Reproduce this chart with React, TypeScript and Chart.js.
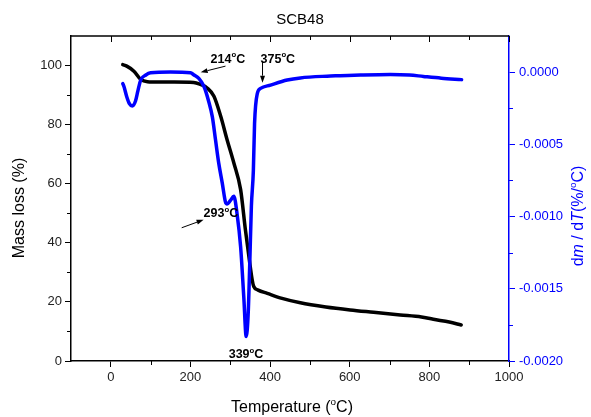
import React, { useEffect, useRef } from "react";
import { Chart, registerables } from "chart.js";

Chart.register(...registerables);

// ---- Data ----
const massTemps = [30, 40, 58, 75, 92, 120, 160, 208, 225, 242, 259, 276, 292, 309, 326, 338, 349, 355, 359, 370, 393, 430, 476, 540, 601, 660, 727, 780, 810, 850, 880];
const massValues = [100.3, 99.8, 98.1, 95.3, 94.5, 94.4, 94.4, 94.3, 93.6, 92.4, 89.6, 82.8, 74.9, 67.0, 58.0, 44.4, 33.1, 27.5, 25.2, 24.0, 22.9, 21.2, 19.7, 18.3, 17.3, 16.5, 15.6, 14.9, 14.1, 13.2, 12.2];

const dtgTemps = [30, 33, 40, 47, 54, 62, 68, 75, 88, 100, 150, 200, 209, 221, 234, 246, 255, 263, 271, 280, 288, 292, 300, 309, 317, 326, 334, 340, 345, 349, 353, 358, 361, 368, 376, 401, 443, 476, 543, 576, 627, 702, 750, 785, 830, 881];
const dtgValues = [-0.00008, -0.0001, -0.00017, -0.00022, -0.000235, -0.0002, -0.00013, -0.000055, -0.00002, -0.000005, 0.0, -0.000005, -0.00002, -0.000044, -0.0001, -0.000205, -0.00031, -0.00047, -0.00063, -0.00077, -0.0009, -0.000913, -0.00089, -0.00086, -0.00098, -0.00121, -0.00156, -0.00183, -0.00167, -0.00132, -0.00093, -0.00068, -0.000355, -0.000147, -0.000113, -0.00009, -0.000055, -0.00004, -0.000028, -0.000025, -0.00002, -0.000016, -0.00002, -0.00003, -0.000042, -0.000052];

const xMajorTicks = [0, 200, 400, 600, 800, 1000];
const xMinorTicks = [100, 300, 500, 700, 900];
const yMajorTicks = [0, 20, 40, 60, 80, 100];
const yMinorTicks = [10, 30, 50, 70, 90];
const y2MajorTicks = [-0.002, -0.0015, -0.001, -0.0005, 0];
const y2MinorTicks = [-0.00175, -0.00125, -0.00075, -0.00025];

// annotations: [label, textT, textMass, arrowFromT, arrowFromMass, arrowToT, arrowToMass]
const annLabels = ["214", "375", "293", "339"];
const annTextT = [250.6, 376, 233, 296];
const annTextM = [101, 101, 48.8, 1.0];
const annArrowFrom = [[288, 99.8], [381, 101.4], [178, 45.1], null];
const annArrowTo = [[225.6, 97.7], [381, 94.2], [233, 47.8], null];

const FONT = "'Liberation Sans', Arial, sans-serif";
const BLUE = "#0000ff";

function drawDegText(ctx: CanvasRenderingContext2D, x: number, y: number, parts: { t: string; style?: string; sup?: boolean }[], size: number, weight: string) {
  let cx = x;
  for (const p of parts) {
    const s = p.sup ? size * 0.62 : size;
    ctx.font = `${p.style || "normal"} ${weight} ${s}px ${FONT}`;
    const dy = p.sup ? -size * 0.42 : 0;
    ctx.fillText(p.t, cx, y + dy);
    cx += ctx.measureText(p.t).width;
  }
  return cx - x;
}

function measureParts(ctx: CanvasRenderingContext2D, parts: { t: string; style?: string; sup?: boolean }[], size: number, weight: string) {
  let w = 0;
  for (const p of parts) {
    const s = p.sup ? size * 0.62 : size;
    ctx.font = `${p.style || "normal"} ${weight} ${s}px ${FONT}`;
    w += ctx.measureText(p.t).width;
  }
  return w;
}

function arrow(ctx: CanvasRenderingContext2D, x1: number, y1: number, x2: number, y2: number) {
  ctx.save();
  ctx.strokeStyle = "#000";
  ctx.fillStyle = "#000";
  ctx.lineWidth = 1;
  const ang = Math.atan2(y2 - y1, x2 - x1);
  const hl = 7, hw = 2.5;
  const bx = x2 - hl * Math.cos(ang), by = y2 - hl * Math.sin(ang);
  ctx.beginPath();
  ctx.moveTo(x1, y1);
  ctx.lineTo(bx, by);
  ctx.stroke();
  ctx.beginPath();
  ctx.moveTo(x2, y2);
  ctx.lineTo(bx + hw * Math.sin(ang), by - hw * Math.cos(ang));
  ctx.lineTo(bx - hw * Math.sin(ang), by + hw * Math.cos(ang));
  ctx.closePath();
  ctx.fill();
  ctx.restore();
}

const decorPlugin = {
  id: "decor",
  afterDraw(chart: any) {
    const ctx: CanvasRenderingContext2D = chart.ctx;
    const xs = chart.scales.x, ys = chart.scales.y, y2 = chart.scales.y2;
    const { left, right, top, bottom } = chart.chartArea;
    ctx.save();
    // top border
    ctx.strokeStyle = "#000";
    ctx.lineWidth = 1.5;
    ctx.beginPath();
    ctx.moveTo(left, top);
    ctx.lineTo(right, top);
    ctx.stroke();
    ctx.lineWidth = 1;
    // top ticks
    for (const v of xMajorTicks) {
      const px = Math.round(xs.getPixelForValue(v)) + 0.5;
      ctx.beginPath(); ctx.moveTo(px, top); ctx.lineTo(px, top + 6); ctx.stroke();
    }
    for (const v of xMinorTicks) {
      const px = Math.round(xs.getPixelForValue(v)) + 0.5;
      ctx.beginPath(); ctx.moveTo(px, top); ctx.lineTo(px, top + 4); ctx.stroke();
      ctx.beginPath(); ctx.moveTo(px, bottom); ctx.lineTo(px, bottom + 4); ctx.stroke();
    }
    for (const v of yMinorTicks) {
      const py = Math.round(ys.getPixelForValue(v)) + 0.5;
      ctx.beginPath(); ctx.moveTo(left, py); ctx.lineTo(left - 4, py); ctx.stroke();
    }
    ctx.strokeStyle = BLUE;
    for (const v of y2MinorTicks) {
      const py = Math.round(y2.getPixelForValue(v)) + 0.5;
      ctx.beginPath(); ctx.moveTo(right, py); ctx.lineTo(right + 4, py); ctx.stroke();
    }

    // chart title
    ctx.fillStyle = "#000";
    ctx.textBaseline = "alphabetic";
    ctx.textAlign = "center";
    ctx.font = `15px ${FONT}`;
    ctx.fillText("SCB48", 300, 24);

    // x title
    ctx.textAlign = "left";
    const xt = [{ t: "Temperature (" }, { t: "o", sup: true }, { t: "C)" }];
    const wx = measureParts(ctx, xt, 16, "normal");
    drawDegText(ctx, 292 - wx / 2, 412, xt, 16, "normal");

    // left title
    ctx.save();
    ctx.translate(24, 208);
    ctx.rotate(-Math.PI / 2);
    ctx.textAlign = "center";
    ctx.font = `16px ${FONT}`;
    ctx.fillText("Mass loss (%)", 0, 0);
    ctx.restore();

    // right title
    ctx.save();
    ctx.fillStyle = BLUE;
    ctx.translate(583, 216);
    ctx.rotate(-Math.PI / 2);
    ctx.textAlign = "left";
    const rt = [{ t: "d" }, { t: "m", style: "italic" }, { t: " / d" }, { t: "T", style: "italic" }, { t: "(%/" }, { t: "o", sup: true }, { t: "C)" }];
    const wr = measureParts(ctx, rt, 16, "normal");
    drawDegText(ctx, -wr / 2, 0, rt, 16, "normal");
    ctx.restore();

    // annotations
    ctx.fillStyle = "#000";
    ctx.textAlign = "left";
    for (let i = 0; i < annLabels.length; i++) {
      const tx = xs.getPixelForValue(annTextT[i]);
      const ty = ys.getPixelForValue(annTextM[i]);
      drawDegText(ctx, tx, ty, [{ t: annLabels[i] }, { t: "o", sup: true }, { t: "C" }], 12.5, "bold");
      const f = annArrowFrom[i], t = annArrowTo[i];
      if (f && t) {
        arrow(ctx, xs.getPixelForValue(f[0]), ys.getPixelForValue(f[1]), xs.getPixelForValue(t[0]), ys.getPixelForValue(t[1]));
      }
    }
    ctx.restore();
  },
};

export default function App() {
  const ref = useRef<HTMLCanvasElement>(null);
  useEffect(() => {
    if (!ref.current) return;
    const chart = new Chart(ref.current, {
      type: "line",
      data: {
        datasets: [
          {
            label: "DTG",
            data: dtgTemps.map((t, i) => ({ x: t, y: dtgValues[i] })),
            yAxisID: "y2",
            borderColor: BLUE,
            borderWidth: 3.5,
            pointRadius: 0,
            cubicInterpolationMode: "monotone",
            borderJoinStyle: "round",
            borderCapStyle: "round",
            fill: false,
          },
          {
            label: "TG",
            data: massTemps.map((t, i) => ({ x: t, y: massValues[i] })),
            yAxisID: "y",
            borderColor: "#000",
            borderWidth: 3.5,
            pointRadius: 0,
            cubicInterpolationMode: "monotone",
            borderJoinStyle: "round",
            borderCapStyle: "round",
            fill: false,
          },
        ],
      },
      options: {
        responsive: false,
        animation: false,
        layout: { padding: { top: 36, left: 0, right: 0, bottom: 0 } },
        plugins: { legend: { display: false }, tooltip: { enabled: false }, title: { display: false } },
        scales: {
          x: {
            type: "linear",
            min: -100,
            max: 1000,
            afterBuildTicks: (s: any) => { s.ticks = xMajorTicks.map((v) => ({ value: v })); },
            afterFit: (s: any) => { s.height = 56; },
            grid: { drawOnChartArea: false, drawTicks: true, tickLength: 6, tickColor: "#000", tickWidth: 1 },
            border: { display: true, color: "#000", width: 1.5 },
            ticks: { color: "#222", font: { family: FONT, size: 13 }, padding: 3, maxRotation: 0, callback: (v: any) => String(v) },
          },
          y: {
            type: "linear",
            position: "left",
            min: 0,
            max: 110,
            afterBuildTicks: (s: any) => { s.ticks = yMajorTicks.map((v) => ({ value: v })); },
            afterFit: (s: any) => { s.width = 71; },
            grid: { drawOnChartArea: false, drawTicks: true, tickLength: 6, tickColor: "#000", tickWidth: 1 },
            border: { display: true, color: "#000", width: 1.5 },
            ticks: { color: "#222", font: { family: FONT, size: 13 }, padding: 3, callback: (v: any) => String(v) },
          },
          y2: {
            type: "linear",
            position: "right",
            min: -0.002,
            max: 0.00025,
            afterBuildTicks: (s: any) => { s.ticks = y2MajorTicks.map((v) => ({ value: v })); },
            afterFit: (s: any) => { s.width = 82; },
            grid: { drawOnChartArea: false, drawTicks: true, tickLength: 6, tickColor: BLUE, tickWidth: 1 },
            border: { display: true, color: BLUE, width: 1.5 },
            ticks: { color: BLUE, font: { family: FONT, size: 13 }, padding: 4, callback: (v: any) => Number(v).toFixed(4) },
          },
        },
      },
      plugins: [decorPlugin],
    } as any);
    return () => chart.destroy();
  }, []);
  return (
    <div style={{ position: "absolute", left: 0, top: 0, width: 591, height: 417, background: "#fff" }}>
      <canvas ref={ref} width={591} height={417} />
    </div>
  );
}
